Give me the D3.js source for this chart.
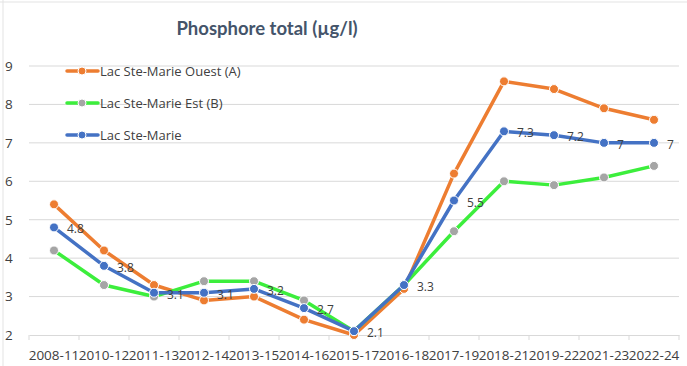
<!DOCTYPE html>
<html><head><meta charset="utf-8">
<script src="https://cdn.jsdelivr.net/npm/d3@7"></script>
<style>body{margin:0;background:#fff}svg{display:block}</style>
</head><body><svg id="c" width="687" height="366"></svg>
<script>
const categories = ["2008-11","2010-12","2011-13","2012-14","2013-15","2014-16","2015-17","2016-18","2017-19","2018-21","2019-22","2021-23","2022-24"];
const ouest = [5.4,4.2,3.3,2.9,3.0,2.4,2.0,3.2,6.2,8.6,8.4,7.9,7.6];
const est = [4.2,3.3,3.0,3.4,3.4,2.9,2.1,3.3,4.7,6.0,5.9,6.1,6.4];
const lac = [4.8,3.8,3.1,3.1,3.2,2.7,2.1,3.3,5.5,7.3,7.2,7.0,7.0];
const yTicks = [2,3,4,5,6,7,8,9];
const seriesNames = ["Lac Ste-Marie Ouest (A)","Lac Ste-Marie Est (B)","Lac Ste-Marie"];

const series = [
  {name: seriesNames[0], values: ouest, line: "#ED7D31", marker: "#ED7D31", labels: false},
  {name: seriesNames[1], values: est, line: "#3CEE3C", marker: "#A5A5A5", labels: false},
  {name: seriesNames[2], values: lac, line: "#4472C4", marker: "#4472C4", labels: true}
];

const svg = d3.select("#c");
const font = "'Open Sans', 'Noto Sans', sans-serif";
const titleFont = "Lato, Calibri, sans-serif";
const L = 29, R = 679, T = 66, B = 335;
const x = d3.scaleBand().domain(categories).range([L, R]);
const y = d3.scaleLinear().domain([2, 9]).range([B, T]);

// sheet cell borders
svg.append("line").attr("x1",0).attr("x2",687).attr("y1",2).attr("y2",2).attr("stroke","#E3E3E3");
svg.append("line").attr("x1",3).attr("x2",3).attr("y1",0).attr("y2",366).attr("stroke","#E3E3E3");

// gridlines
svg.append("g").selectAll("line").data(yTicks.filter(d=>d>2)).join("line")
  .attr("x1", L).attr("x2", R).attr("y1", d=>y(d)).attr("y2", d=>y(d))
  .attr("stroke", "#D9D9D9").attr("stroke-width", 1);

// x axis
const xAxis = svg.append("g").attr("transform", `translate(0,${B})`)
  .call(d3.axisBottom(x).tickSize(0).tickPadding(15));
xAxis.select(".domain").attr("stroke","#D9D9D9");
xAxis.selectAll("text").attr("font-family", font).attr("font-size", 13.5).attr("fill","#404040");
// category boundary ticks
svg.append("g").selectAll("line").data(d3.range(categories.length+1)).join("line")
  .attr("x1", i => L + i*x.step()).attr("x2", i => L + i*x.step())
  .attr("y1", B).attr("y2", B+5).attr("stroke","#D9D9D9");

// y axis labels
const yAxis = svg.append("g").attr("transform", `translate(${L},0)`)
  .call(d3.axisLeft(y).tickValues(yTicks).tickSize(0).tickFormat(d3.format("d")));
yAxis.select(".domain").remove();
yAxis.selectAll("text").attr("font-family", font).attr("font-size", 13.5).attr("fill","#404040").attr("text-anchor","start").attr("x",-24);

const cx = d => x(d) + x.bandwidth()/2;
const line = d3.line().x((d,i)=>cx(categories[i])).y(d=>y(d));

series.forEach(s => {
  const g = svg.append("g");
  g.append("path").attr("d", line(s.values)).attr("fill","none")
    .attr("stroke", s.line).attr("stroke-width", 3.5).attr("stroke-linejoin","round").attr("stroke-linecap","round");
  g.selectAll("circle").data(s.values).join("circle")
    .attr("cx",(d,i)=>cx(categories[i])).attr("cy", d=>y(d)).attr("r", 4.5)
    .attr("fill", s.marker).attr("stroke","#fff").attr("stroke-width",1);
  if (s.labels) {
    g.selectAll("text").data(s.values).join("text")
      .attr("x",(d,i)=>cx(categories[i]) + 13).attr("y", d=>y(d)+6)
      .attr("font-family", font).attr("font-size", 12).attr("fill","#404040")
      .text(d=>d3.format("")(d));
  }
});

// legend
const leg = svg.append("g");
series.forEach((s,i) => {
  const ly = 71 + i*32;
  leg.append("line").attr("x1",67).attr("x2",98).attr("y1",ly).attr("y2",ly)
    .attr("stroke", s.line).attr("stroke-width",3.5).attr("stroke-linecap","round");
  leg.append("circle").attr("cx",82).attr("cy",ly).attr("r",4).attr("fill",s.marker).attr("stroke","#fff").attr("stroke-width",1);
  leg.append("text").attr("x",100).attr("y",ly+4.5).attr("font-family",font).attr("font-size",13).attr("fill","#404040").text(s.name);
});

// title
svg.append("text").attr("x",267).attr("y",35).attr("text-anchor","middle")
  .attr("font-family",titleFont).attr("font-size",18.5).attr("font-weight","bold").attr("fill","#44546A")
  .text("Phosphore total (µg/l)");
</script></body></html>
